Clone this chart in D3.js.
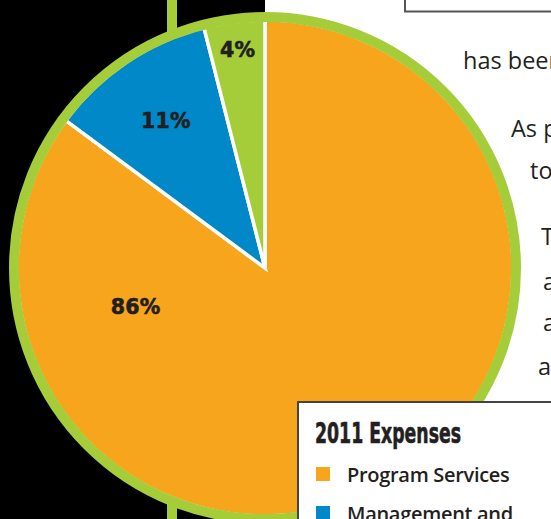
<!DOCTYPE html>
<html>
<head>
<meta charset="utf-8">
<script src="https://cdn.jsdelivr.net/npm/d3@7"></script>
<style>
  body { margin: 0; background: #fff; }
  svg { display: block; }
</style>
</head>
<body>
<script>
// 2011 expenses, share of total
const categories = ['Program Services', 'Management and', 'Fundraising']
const values = [86, 11, 4]
const labels = ['86%', '11%', '4%']
const colors = ['#f7a51d', '#0088c9', '#a5cd39']

// body copy that runs off the right edge of the page
const bodyLines = ['has been', 'As p', 'to', 'T', 'a', 'a', 'a']

const W = 551
const H = 519

const svg = d3.select('body').append('svg')
  .attr('width', W)
  .attr('height', H)

// black left panel with a green rule through it
svg.append('rect')
  .attr('width', 265)
  .attr('height', H)
  .attr('fill', '#000')

svg.append('rect')
  .attr('x', 167)
  .attr('width', 10)
  .attr('height', H)
  .attr('fill', '#a5cd39')

// boxed item at the top right
svg.append('rect')
  .attr('x', 405)
  .attr('y', -10)
  .attr('width', 200)
  .attr('height', 21.5)
  .attr('fill', '#fff')
  .attr('stroke', '#555')
  .attr('stroke-width', 2)

// running text on the right
const textX = [463, 511, 530, 541, 543, 543, 538]
const textY = [69, 137, 179, 245, 290, 331, 375]
svg.append('g')
  .selectAll('text')
  .data(bodyLines)
  .enter()
  .append('text')
  .attr('x', (d, i) => textX[i])
  .attr('y', (d, i) => textY[i])
  .attr('font-family', 'Open Sans')
  .attr('font-size', 23.5)
  .attr('fill', '#231f20')
  .text((d) => d)

const cx = 265
const cy = 268
const r = 248

const pie = d3.pie().sort(null).value((d) => d)
const arcs = pie(values)
const arc = d3.arc().innerRadius(0).outerRadius(r)

const g = svg.append('g').attr('transform', `translate(${cx},${cy})`)

g.selectAll('.slice')
  .data(arcs)
  .enter()
  .append('path')
  .attr('class', 'slice')
  .attr('d', arc)
  .attr('fill', (d, i) => colors[i])
  .attr('stroke', '#fff')
  .attr('stroke-width', 3.5)
  .attr('stroke-linejoin', 'miter')

// green rim
g.append('circle')
  .attr('r', 251)
  .attr('fill', 'none')
  .attr('stroke', '#a5cd39')
  .attr('stroke-width', 10)

// labels: radius per slice, big slice label pushed round to the left
const labelR = [135, 178, 220]
const labelShift = [1.75, 0, 0]
g.selectAll('.lbl')
  .data(arcs)
  .enter()
  .append('text')
  .attr('class', 'lbl')
  .attr('transform', (d, i) => {
    const a = (d.startAngle + d.endAngle) / 2 + labelShift[i]
    return `translate(${labelR[i] * Math.sin(a)},${-labelR[i] * Math.cos(a)})`
  })
  .attr('text-anchor', 'middle')
  .attr('dy', '0.36em')
  .attr('font-family', 'DejaVu Sans')
  .attr('font-weight', 'bold')
  .attr('font-size', 20.5)
  .attr('letter-spacing', 0.2)
  .attr('fill', '#231f20')
  .attr('stroke', '#231f20')
  .attr('stroke-width', 0.6)
  .text((d, i) => labels[i])

// legend
const lg = svg.append('g').attr('transform', 'translate(298,402)')

lg.append('rect')
  .attr('width', 300)
  .attr('height', 200)
  .attr('fill', '#fff')
  .attr('stroke', '#444')
  .attr('stroke-width', 2)

lg.append('text')
  .attr('x', 17)
  .attr('y', 41)
  .attr('font-family', 'DejaVu Sans Condensed')
  .attr('font-weight', 'bold')
  .attr('font-size', 29)
  .attr('textLength', 146)
  .attr('lengthAdjust', 'spacingAndGlyphs')
  .attr('fill', '#231f20')
  .attr('stroke', '#231f20')
  .attr('stroke-width', 0.6)
  .text('2011 Expenses')

const item = lg.selectAll('.item')
  .data(categories)
  .enter()
  .append('g')
  .attr('class', 'item')
  .attr('transform', (d, i) => `translate(0,${i * 39})`)

item.append('rect')
  .attr('x', 18)
  .attr('y', 65)
  .attr('width', 14)
  .attr('height', 14)
  .attr('fill', (d, i) => colors[i])

item.append('text')
  .attr('x', 49)
  .attr('y', 80)
  .attr('font-family', 'Open Sans')
  .attr('font-weight', 600)
  .attr('font-size', 20)
  .attr('letter-spacing', -0.3)
  .attr('fill', '#231f20')
  .text((d) => d)
</script>
</body>
</html>
